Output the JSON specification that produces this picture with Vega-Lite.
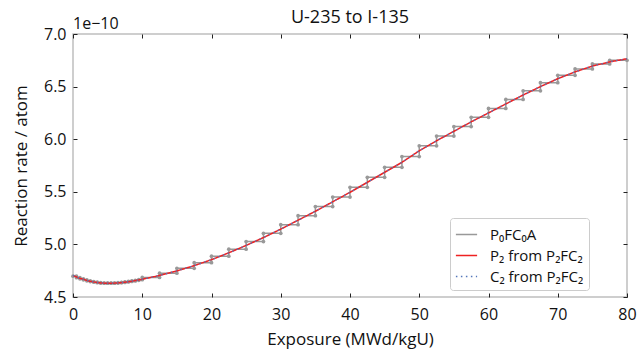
{
  "$schema": "https://vega.github.io/schema/vega-lite/v6.json",
  "autosize": "none",
  "width": 554,
  "height": 263,
  "padding": {"left": 73, "top": 34, "right": 17, "bottom": 55},
  "title": {"text": "U-235 to I-135", "fontSize": 18, "font": "Open Sans", "fontWeight": "normal", "color": "#111", "offset": 7, "dy": 18},
  "config": {
    "font": "Open Sans",
    "view": {"stroke": "#bfbfbf", "strokeWidth": 1.5},
    "axis": {"grid": false, "domain": false, "labelFlush": false, "tickColor": "#222", "tickSize": -4, "labelFontSize": 16, "labelColor": "#111", "titleFontSize": 17, "titleFontWeight": "normal", "titleColor": "#111", "labelFont": "Open Sans", "titleFont": "Open Sans"},
    "legend": {"orient": "none", "legendX": 377, "legendY": 184, "padding": 5, "strokeColor": "#cccccc", "fillColor": "#ffffff", "cornerRadius": 3, "labelFontSize": 15, "labelFont": "Open Sans", "labelColor": "#111", "symbolType": "stroke", "symbolSize": 450, "symbolStrokeWidth": 1.5, "rowPadding": 1, "labelOffset": 12}
  },
  "datasets": {
    "smooth": [
      {"x": 0, "rate": 4.705}, {"x": 0.5, "rate": 4.69}, {"x": 1, "rate": 4.678}, {"x": 1.5, "rate": 4.668},
      {"x": 2, "rate": 4.658}, {"x": 2.5, "rate": 4.65}, {"x": 3, "rate": 4.643}, {"x": 3.5, "rate": 4.638},
      {"x": 4, "rate": 4.634}, {"x": 4.5, "rate": 4.632}, {"x": 5, "rate": 4.631}, {"x": 5.5, "rate": 4.631},
      {"x": 6, "rate": 4.632}, {"x": 6.5, "rate": 4.634}, {"x": 7, "rate": 4.637}, {"x": 7.5, "rate": 4.641},
      {"x": 8, "rate": 4.645}, {"x": 8.5, "rate": 4.65}, {"x": 9, "rate": 4.656}, {"x": 9.5, "rate": 4.662},
      {"x": 10, "rate": 4.668}, {"x": 12.5, "rate": 4.705}, {"x": 15, "rate": 4.748}, {"x": 17.5, "rate": 4.798},
      {"x": 20, "rate": 4.855}, {"x": 22.5, "rate": 4.92}, {"x": 25, "rate": 4.99}, {"x": 27.5, "rate": 5.065},
      {"x": 30, "rate": 5.145}, {"x": 32.5, "rate": 5.23}, {"x": 35, "rate": 5.315}, {"x": 37.5, "rate": 5.405},
      {"x": 40, "rate": 5.495}, {"x": 42.5, "rate": 5.59}, {"x": 45, "rate": 5.685}, {"x": 47.5, "rate": 5.78},
      {"x": 50, "rate": 5.89}, {"x": 52.5, "rate": 5.985}, {"x": 55, "rate": 6.075}, {"x": 57.5, "rate": 6.165},
      {"x": 60, "rate": 6.25}, {"x": 62.5, "rate": 6.335}, {"x": 65, "rate": 6.42}, {"x": 67.5, "rate": 6.5},
      {"x": 70, "rate": 6.575}, {"x": 72.5, "rate": 6.64}, {"x": 75, "rate": 6.695}, {"x": 77.5, "rate": 6.735},
      {"x": 80, "rate": 6.765}
    ],
    "steps": [
      {"i": 1, "x": 0, "rate": 4.6975}, {"i": 2, "x": 0.5, "rate": 4.6975},
      {"i": 3, "x": 0.5, "rate": 4.684}, {"i": 4, "x": 1, "rate": 4.684},
      {"i": 5, "x": 1, "rate": 4.673}, {"i": 6, "x": 1.5, "rate": 4.673},
      {"i": 7, "x": 1.5, "rate": 4.663}, {"i": 8, "x": 2, "rate": 4.663},
      {"i": 9, "x": 2, "rate": 4.654}, {"i": 10, "x": 2.5, "rate": 4.654},
      {"i": 11, "x": 2.5, "rate": 4.6465}, {"i": 12, "x": 3, "rate": 4.6465},
      {"i": 13, "x": 3, "rate": 4.6405}, {"i": 14, "x": 3.5, "rate": 4.6405},
      {"i": 15, "x": 3.5, "rate": 4.636}, {"i": 16, "x": 4, "rate": 4.636},
      {"i": 17, "x": 4, "rate": 4.633}, {"i": 18, "x": 4.5, "rate": 4.633},
      {"i": 19, "x": 4.5, "rate": 4.6315}, {"i": 20, "x": 5, "rate": 4.6315},
      {"i": 21, "x": 5, "rate": 4.631}, {"i": 22, "x": 5.5, "rate": 4.631},
      {"i": 23, "x": 5.5, "rate": 4.6315}, {"i": 24, "x": 6, "rate": 4.6315},
      {"i": 25, "x": 6, "rate": 4.633}, {"i": 26, "x": 6.5, "rate": 4.633},
      {"i": 27, "x": 6.5, "rate": 4.6355}, {"i": 28, "x": 7, "rate": 4.6355},
      {"i": 29, "x": 7, "rate": 4.639}, {"i": 30, "x": 7.5, "rate": 4.639},
      {"i": 31, "x": 7.5, "rate": 4.643}, {"i": 32, "x": 8, "rate": 4.643},
      {"i": 33, "x": 8, "rate": 4.6475}, {"i": 34, "x": 8.5, "rate": 4.6475},
      {"i": 35, "x": 8.5, "rate": 4.653}, {"i": 36, "x": 9, "rate": 4.653},
      {"i": 37, "x": 9, "rate": 4.659}, {"i": 38, "x": 9.5, "rate": 4.659},
      {"i": 39, "x": 9.5, "rate": 4.665}, {"i": 40, "x": 10, "rate": 4.665},
      {"i": 41, "x": 10, "rate": 4.6865}, {"i": 42, "x": 12.5, "rate": 4.6865},
      {"i": 43, "x": 12.5, "rate": 4.7265}, {"i": 44, "x": 15, "rate": 4.7265},
      {"i": 45, "x": 15, "rate": 4.773}, {"i": 46, "x": 17.5, "rate": 4.773},
      {"i": 47, "x": 17.5, "rate": 4.8265}, {"i": 48, "x": 20, "rate": 4.8265},
      {"i": 49, "x": 20, "rate": 4.8875}, {"i": 50, "x": 22.5, "rate": 4.8875},
      {"i": 51, "x": 22.5, "rate": 4.955}, {"i": 52, "x": 25, "rate": 4.955},
      {"i": 53, "x": 25, "rate": 5.0275}, {"i": 54, "x": 27.5, "rate": 5.0275},
      {"i": 55, "x": 27.5, "rate": 5.105}, {"i": 56, "x": 30, "rate": 5.105},
      {"i": 57, "x": 30, "rate": 5.1875}, {"i": 58, "x": 32.5, "rate": 5.1875},
      {"i": 59, "x": 32.5, "rate": 5.2725}, {"i": 60, "x": 35, "rate": 5.2725},
      {"i": 61, "x": 35, "rate": 5.36}, {"i": 62, "x": 37.5, "rate": 5.36},
      {"i": 63, "x": 37.5, "rate": 5.45}, {"i": 64, "x": 40, "rate": 5.45},
      {"i": 65, "x": 40, "rate": 5.5425}, {"i": 66, "x": 42.5, "rate": 5.5425},
      {"i": 67, "x": 42.5, "rate": 5.6375}, {"i": 68, "x": 45, "rate": 5.6375},
      {"i": 69, "x": 45, "rate": 5.7325}, {"i": 70, "x": 47.5, "rate": 5.7325},
      {"i": 71, "x": 47.5, "rate": 5.835}, {"i": 72, "x": 50, "rate": 5.835},
      {"i": 73, "x": 50, "rate": 5.9375}, {"i": 74, "x": 52.5, "rate": 5.9375},
      {"i": 75, "x": 52.5, "rate": 6.03}, {"i": 76, "x": 55, "rate": 6.03},
      {"i": 77, "x": 55, "rate": 6.12}, {"i": 78, "x": 57.5, "rate": 6.12},
      {"i": 79, "x": 57.5, "rate": 6.2075}, {"i": 80, "x": 60, "rate": 6.2075},
      {"i": 81, "x": 60, "rate": 6.2925}, {"i": 82, "x": 62.5, "rate": 6.2925},
      {"i": 83, "x": 62.5, "rate": 6.3775}, {"i": 84, "x": 65, "rate": 6.3775},
      {"i": 85, "x": 65, "rate": 6.46}, {"i": 86, "x": 67.5, "rate": 6.46},
      {"i": 87, "x": 67.5, "rate": 6.5375}, {"i": 88, "x": 70, "rate": 6.5375},
      {"i": 89, "x": 70, "rate": 6.6075}, {"i": 90, "x": 72.5, "rate": 6.6075},
      {"i": 91, "x": 72.5, "rate": 6.6675}, {"i": 92, "x": 75, "rate": 6.6675},
      {"i": 93, "x": 75, "rate": 6.715}, {"i": 94, "x": 77.5, "rate": 6.715},
      {"i": 95, "x": 77.5, "rate": 6.75}, {"i": 96, "x": 80, "rate": 6.75}
    ],
    "labels": [{"text": "1e−10"}]
  },
  "resolve": {"axis": {"x": "independent", "y": "independent"}},
  "layer": [
    {
      "data": {"name": "steps"},
      "mark": {"type": "line", "strokeWidth": 1.5, "point": {"filled": true, "size": 14, "color": "#999999"}},
      "encoding": {
        "x": {"field": "x", "type": "quantitative", "scale": {"domain": [0, 80], "nice": false}, "title": "Exposure (MWd/kgU)", "axis": {"values": [0, 10, 20, 30, 40, 50, 60, 70, 80], "labelPadding": 13, "titlePadding": 9, "orient": "bottom"}},
        "y": {"field": "rate", "type": "quantitative", "scale": {"domain": [4.5, 7.0], "nice": false, "zero": false}, "title": "Reaction rate / atom", "axis": {"values": [4.5, 5.0, 5.5, 6.0, 6.5, 7.0], "format": ".1f", "labelPadding": 11, "titlePadding": 13, "orient": "left"}},
        "order": {"field": "i", "type": "quantitative"},
        "color": {"datum": "P₀FC₀A", "type": "nominal", "scale": {"domain": ["P₀FC₀A", "P₂ from P₂FC₂", "C₂ from P₂FC₂"], "range": ["#999999", "#ee2222", "#5577bb"]}, "legend": {"title": null}},
        "strokeDash": {"datum": "P₀FC₀A", "type": "nominal", "scale": {"domain": ["P₀FC₀A", "P₂ from P₂FC₂", "C₂ from P₂FC₂"], "range": [[1, 0], [1, 0], [1.5, 3.5]]}, "legend": {"title": null}}
      }
    },
    {
      "data": {"name": "smooth"},
      "mark": {"type": "line", "strokeWidth": 1.5},
      "encoding": {
        "x": {"field": "x", "type": "quantitative", "axis": {"orient": "top", "values": [0, 10, 20, 30, 40, 50, 60, 70, 80], "labels": false, "title": null}},
        "y": {"field": "rate", "type": "quantitative", "axis": {"orient": "right", "values": [4.5, 5.0, 5.5, 6.0, 6.5, 7.0], "labels": false, "title": null}},
        "color": {"datum": "P₂ from P₂FC₂", "type": "nominal"},
        "strokeDash": {"datum": "P₂ from P₂FC₂", "type": "nominal"}
      }
    },
    {
      "data": {"name": "smooth"},
      "mark": {"type": "line", "strokeWidth": 1.3},
      "encoding": {
        "x": {"field": "x", "type": "quantitative", "axis": null},
        "y": {"field": "rate", "type": "quantitative", "axis": null},
        "color": {"datum": "C₂ from P₂FC₂", "type": "nominal"},
        "strokeDash": {"datum": "C₂ from P₂FC₂", "type": "nominal"}
      }
    },
    {
      "data": {"name": "labels"},
      "mark": {"type": "text", "align": "left", "baseline": "bottom", "dy": -2, "fontSize": 16, "font": "Open Sans", "color": "#111"},
      "encoding": {
        "x": {"datum": 0, "type": "quantitative", "axis": null},
        "y": {"datum": 7.0, "type": "quantitative", "axis": null},
        "text": {"field": "text"}
      }
    }
  ]
}
